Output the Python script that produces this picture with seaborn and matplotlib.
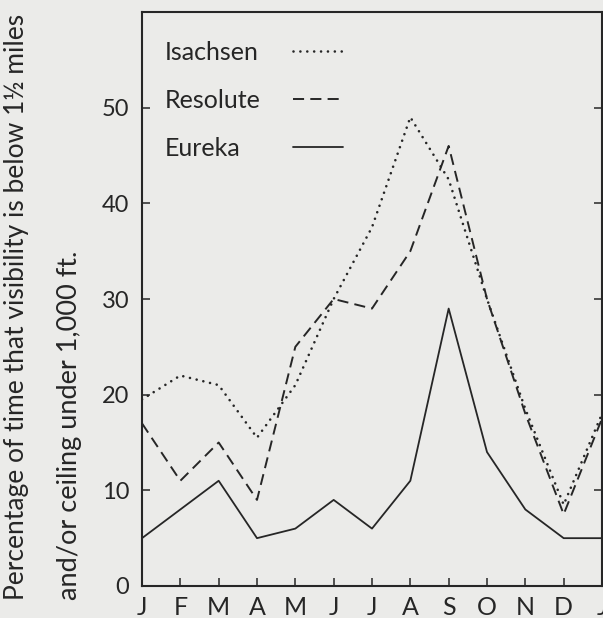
import matplotlib
matplotlib.use("Agg")
import matplotlib.pyplot as plt
import seaborn as sns
import pandas as pd

months = ["J", "F", "M", "A", "M", "J", "J", "A", "S", "O", "N", "D", "J"]
isachsen = [19.5, 22, 21, 15.5, 21, 30, 37.5, 49, 42.5, 30, 18.5, 8.5, 18]
resolute = [17, 11, 15, 9, 25, 30, 29, 35, 46, 30, 18, 7.5, 17.5]
eureka = [5, 8, 11, 5, 6, 9, 6, 11, 29, 14, 8, 5, 5]
yticks = [0, 10, 20, 30, 40, 50]

BG = "#ebebe9"
INK = "#262626"

sns.set_theme(style="ticks")
plt.rcParams["font.family"] = ["Lato", "DejaVu Sans"]

fig = plt.figure(figsize=(6.03, 6.18), dpi=100, facecolor=BG)
ax = fig.add_axes([142 / 603, 32 / 618, 460 / 603, 574 / 618])
ax.set_facecolor(BG)

x = list(range(len(months)))
df = pd.DataFrame({"x": x, "Isachsen": isachsen, "Resolute": resolute, "Eureka": eureka})

styles = {
    "Isachsen": dict(linestyle=(0, (0.01, 2.6)), linewidth=1.9, dash_capstyle="round"),
    "Resolute": dict(linestyle=(0, (5.7, 3.2)), linewidth=1.4),
    "Eureka": dict(linestyle="-", linewidth=1.3),
}
for name in ["Isachsen", "Resolute", "Eureka"]:
    sns.lineplot(data=df, x="x", y=name, ax=ax, color=INK, label=name, **styles[name])

ax.set_xlim(0, 12)
ax.set_ylim(0, 60)
ax.set_xticks(x)
ax.set_xticklabels(months)
ax.set_yticks(yticks)
ax.set_yticklabels([str(v) for v in yticks])
ax.set_xlabel("")
ax.set_ylabel("")

for s in ax.spines.values():
    s.set_visible(True)
    s.set_color(INK)
    s.set_linewidth(1.5)

ax.tick_params(axis="x", direction="in", length=6, width=1.1, color=INK,
               labelsize=18, labelcolor=INK, pad=7, top=False)
ax.tick_params(axis="y", direction="in", length=6, width=1.1, color=INK,
               labelsize=17, labelcolor=INK, pad=9, right=True)

FS = 18
TPAD = 1.3
leg = ax.legend(loc="upper left", bbox_to_anchor=(0.05, 0.950), frameon=False,
                markerfirst=False, fontsize=FS, handlelength=2.0,
                handletextpad=TPAD, labelspacing=1.0, borderpad=0, borderaxespad=0)
for t in leg.get_texts():
    t.set_color(INK)

# left-align the legend labels while keeping the line samples in one column
fig.canvas.draw()
renderer = fig.canvas.get_renderer()
try:
    widths = [t.get_window_extent(renderer).width for t in leg.get_texts()]
    maxw = max(widths)
    for col in leg._legend_handle_box.get_children():
        col.align = "left"
        for row, w in zip(col.get_children(), widths):
            row.sep = TPAD * FS + (maxw - w) * 72.0 / fig.dpi
except Exception:
    pass

fig.text(17 / 603, 1 - 600 / 618, "Percentage of time that visibility is below 1½ miles",
         rotation=90, ha="center", va="bottom", fontsize=19, color=INK)
fig.text(70 / 603, 1 - 600 / 618, "and/or ceiling under 1,000 ft.",
         rotation=90, ha="center", va="bottom", fontsize=19.5, color=INK)

fig.savefig("out.png", dpi=100, facecolor=BG)
